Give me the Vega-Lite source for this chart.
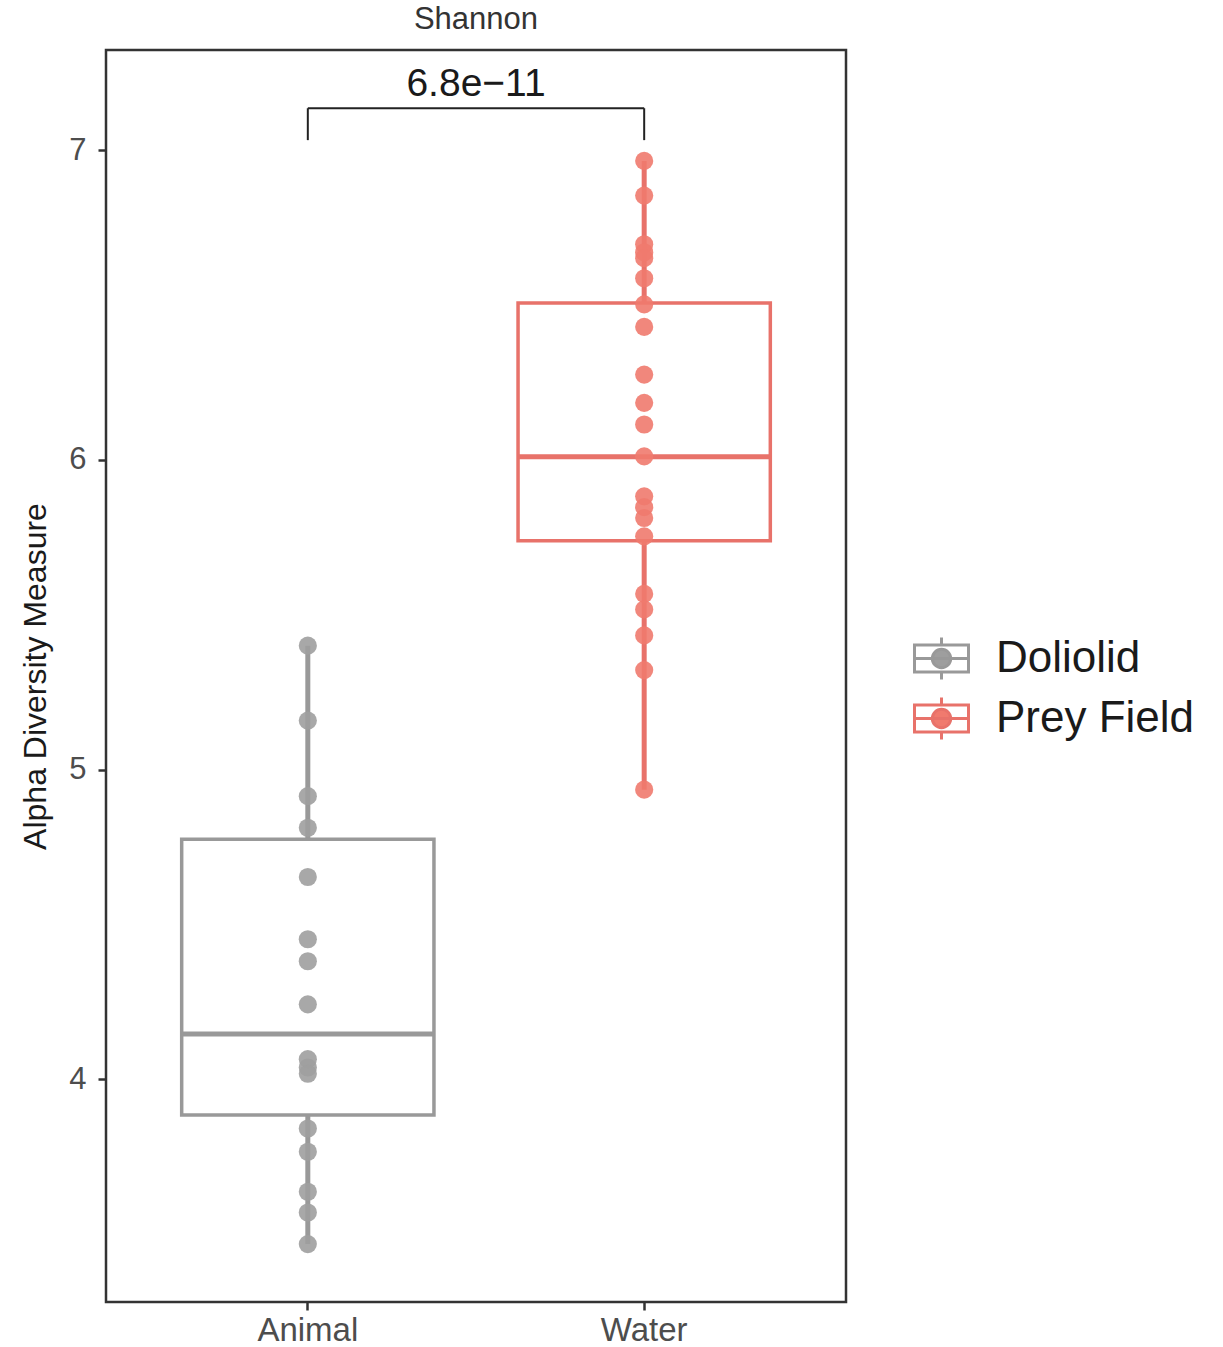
{
  "$schema": "https://vega.github.io/schema/vega-lite/v6.json",
  "autosize": {"type": "none"},
  "padding": {"left": 106, "top": 50, "right": 377, "bottom": 45},
  "width": 740,
  "height": 1252,
  "title": {"text": "Shannon", "fontSize": 31, "fontWeight": "normal", "color": "#333333", "offset": 14, "anchor": "middle", "font": "Liberation Sans"},
  "config": {
    "font": "Liberation Sans",
    "view": {"stroke": "#333333", "strokeWidth": 2.5},
    "axis": {"grid": false, "domain": false, "tickColor": "#333333", "tickWidth": 2.5, "tickSize": 8, "labelColor": "#4d4d4d", "labelFont": "Liberation Sans"}
  },
  "datasets": {
    "points": [
      {"group": "Animal", "type": "Doliolid", "value": 5.400},
      {"group": "Animal", "type": "Doliolid", "value": 5.158},
      {"group": "Animal", "type": "Doliolid", "value": 4.914},
      {"group": "Animal", "type": "Doliolid", "value": 4.812},
      {"group": "Animal", "type": "Doliolid", "value": 4.653},
      {"group": "Animal", "type": "Doliolid", "value": 4.452},
      {"group": "Animal", "type": "Doliolid", "value": 4.381},
      {"group": "Animal", "type": "Doliolid", "value": 4.242},
      {"group": "Animal", "type": "Doliolid", "value": 4.065},
      {"group": "Animal", "type": "Doliolid", "value": 4.038},
      {"group": "Animal", "type": "Doliolid", "value": 4.018},
      {"group": "Animal", "type": "Doliolid", "value": 3.841},
      {"group": "Animal", "type": "Doliolid", "value": 3.766},
      {"group": "Animal", "type": "Doliolid", "value": 3.637},
      {"group": "Animal", "type": "Doliolid", "value": 3.570},
      {"group": "Animal", "type": "Doliolid", "value": 3.468},
      {"group": "Water", "type": "Prey Field", "value": 6.965},
      {"group": "Water", "type": "Prey Field", "value": 6.853},
      {"group": "Water", "type": "Prey Field", "value": 6.696},
      {"group": "Water", "type": "Prey Field", "value": 6.670},
      {"group": "Water", "type": "Prey Field", "value": 6.651},
      {"group": "Water", "type": "Prey Field", "value": 6.586},
      {"group": "Water", "type": "Prey Field", "value": 6.502},
      {"group": "Water", "type": "Prey Field", "value": 6.429},
      {"group": "Water", "type": "Prey Field", "value": 6.275},
      {"group": "Water", "type": "Prey Field", "value": 6.184},
      {"group": "Water", "type": "Prey Field", "value": 6.114},
      {"group": "Water", "type": "Prey Field", "value": 6.011},
      {"group": "Water", "type": "Prey Field", "value": 5.882},
      {"group": "Water", "type": "Prey Field", "value": 5.847},
      {"group": "Water", "type": "Prey Field", "value": 5.812},
      {"group": "Water", "type": "Prey Field", "value": 5.753},
      {"group": "Water", "type": "Prey Field", "value": 5.567},
      {"group": "Water", "type": "Prey Field", "value": 5.517},
      {"group": "Water", "type": "Prey Field", "value": 5.433},
      {"group": "Water", "type": "Prey Field", "value": 5.321},
      {"group": "Water", "type": "Prey Field", "value": 4.935}
    ],
    "boxes": [
      {"group": "Animal", "type": "Doliolid", "lower": 3.468, "q1": 3.885, "median": 4.146, "q3": 4.775, "upper": 5.400},
      {"group": "Water", "type": "Prey Field", "lower": 4.935, "q1": 5.739, "median": 6.010, "q3": 6.506, "upper": 6.965}
    ],
    "legs": [
      {"group": "Animal", "lo": 7.032, "hi": 7.135},
      {"group": "Water", "lo": 7.032, "hi": 7.135}
    ],
    "sig": [
      {"from": "Animal", "to": "Water", "y": 7.135, "ytext": 7.212, "label": "6.8e−11"}
    ]
  },
  "layer": [
    {
      "data": {"name": "boxes"},
      "mark": {"type": "rule", "strokeWidth": 5},
      "encoding": {
        "x": {"field": "group", "type": "nominal", "scale": {"type": "band", "domain": ["Animal", "Water"], "paddingInner": 0, "paddingOuter": 0.1}, "axis": {"title": null, "labelAngle": 0, "labelFontSize": 33, "labelPadding": 4}},
        "y": {"field": "lower", "type": "quantitative", "scale": {"domain": [3.281, 7.323], "nice": false, "zero": false}, "axis": {"values": [4, 5, 6, 7], "format": "d", "labelFontSize": 31, "labelPadding": 12, "title": "Alpha Diversity Measure", "titleFontSize": 32, "titleFontWeight": "normal", "titleColor": "#1a1a1a", "titleX": -71, "titleY": 626, "titleAngle": 270, "titleAlign": "center", "titleBaseline": "middle"}},
        "y2": {"field": "upper"},
        "stroke": {"field": "type", "type": "nominal", "scale": {"domain": ["Doliolid", "Prey Field"], "range": ["#999999", "#E8726A"]},
          "legend": {
            "title": null, "orient": "none", "legendX": 807, "legendY": 580,
            "labelFontSize": 44, "labelColor": "#1a1a1a", "labelFont": "Liberation Sans", "labelLimit": 500,
            "symbolType": "M-1.055,-0.5H1.055 M1,-0.5V0.5 M1.055,0.5H-1.055 M-1,0.5V-0.5 M-1,0H1 M0,-0.5V-0.78 M0,0.5V0.78 M0.34,0A0.34,0.34 0 1,1 -0.34,0A0.34,0.34 0 1,1 0.34,0Z",
            "symbolSize": 2916, "symbolStrokeWidth": 3, "symbolOpacity": 1, "labelOffset": 26, "rowPadding": 4
          }
        }
      }
    },
    {
      "data": {"name": "boxes"},
      "mark": {"type": "bar", "width": {"band": 0.75}, "fill": "white", "strokeWidth": 3.5},
      "encoding": {
        "x": {"field": "group", "type": "nominal"},
        "y": {"field": "q3", "type": "quantitative"},
        "y2": {"field": "q1"},
        "stroke": {"field": "type", "type": "nominal", "legend": null}
      }
    },
    {
      "data": {"name": "boxes"},
      "mark": {"type": "bar", "width": {"band": 0.75}, "fill": "transparent", "strokeWidth": 5},
      "encoding": {
        "x": {"field": "group", "type": "nominal"},
        "y": {"field": "median", "type": "quantitative"},
        "y2": {"field": "median"},
        "stroke": {"field": "type", "type": "nominal", "legend": null}
      }
    },
    {
      "data": {"name": "points"},
      "mark": {"type": "circle", "size": 330, "opacity": 0.9},
      "encoding": {
        "x": {"field": "group", "type": "nominal"},
        "y": {"field": "value", "type": "quantitative"},
        "color": {"field": "type", "type": "nominal", "scale": {"domain": ["Doliolid", "Prey Field"], "range": ["#9e9e9e", "#F07A6E"]}, "legend": null}
      }
    },
    {
      "data": {"name": "legs"},
      "mark": {"type": "rule", "strokeWidth": 2, "color": "#222222"},
      "encoding": {
        "x": {"field": "group", "type": "nominal"},
        "y": {"field": "lo", "type": "quantitative"},
        "y2": {"field": "hi"}
      }
    },
    {
      "data": {"name": "sig"},
      "mark": {"type": "rule", "strokeWidth": 2, "color": "#222222"},
      "encoding": {
        "x": {"field": "from", "type": "nominal"},
        "x2": {"field": "to"},
        "y": {"field": "y", "type": "quantitative"}
      }
    },
    {
      "data": {"name": "sig"},
      "mark": {"type": "text", "fontSize": 39, "color": "#1a1a1a", "baseline": "middle", "align": "center"},
      "encoding": {
        "x": {"field": "from", "type": "nominal", "bandPosition": 1},
        "y": {"field": "ytext", "type": "quantitative"},
        "text": {"field": "label"}
      }
    }
  ]
}
